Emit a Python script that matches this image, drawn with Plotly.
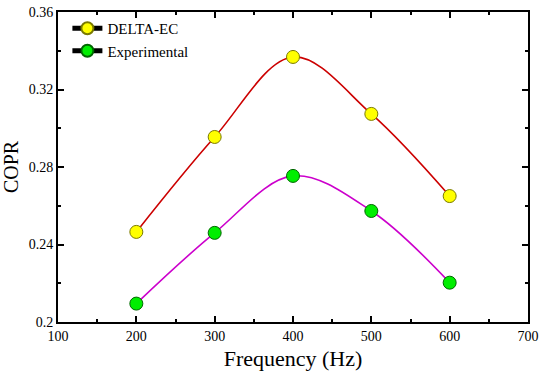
import plotly.graph_objects as go

freq = [200, 300, 400, 500, 600]
delta_ec = [0.2465, 0.2955, 0.3368, 0.3074, 0.2650]
experimental = [0.2095, 0.2460, 0.2754, 0.2573, 0.2203]
series_names = ["DELTA-EC", "Experimental"]
x_ticks = [100, 200, 300, 400, 500, 600, 700]
y_ticks = [0.2, 0.24, 0.28, 0.32, 0.36]
y_labels = ["0.2", "0.24", "0.28", "0.32", "0.36"]

FONT = "Liberation Serif"
line_colors = ["#CC0000", "#CC00CC"]
fill_colors = ["#FFFF00", "#00EE00"]
edge_colors = ["#7A7A00", "#006600"]

fig = go.Figure()
for name, ys, lc, fc, ec in zip(series_names, [delta_ec, experimental], line_colors, fill_colors, edge_colors):
    fig.add_trace(go.Scatter(
        x=freq, y=ys, name=name, mode="lines+markers", showlegend=False,
        line=dict(color=lc, width=1.6, shape="spline", smoothing=1.0),
        marker=dict(size=13, color=fc, line=dict(color=ec, width=1)),
    ))
# legend entries: black line through the coloured marker, as in the reference
for name, fc, ec in zip(series_names, fill_colors, edge_colors):
    fig.add_trace(go.Scatter(
        x=[None], y=[None], name=name, mode="lines+markers",
        line=dict(color="black", width=1.5),
        marker=dict(size=13, color=fc, line=dict(color=ec, width=1)),
    ))

axis_common = dict(
    showline=True, linecolor="black", linewidth=2, mirror="ticks",
    ticks="inside", ticklen=6, tickwidth=2, tickcolor="black",
    showgrid=False, zeroline=False, automargin=False,
    ticklabeloverflow="allow",
    tickfont=dict(family=FONT, size=14, color="black"),
)

fig.update_xaxes(
    range=[100, 700], tickvals=x_ticks,
    title=dict(text="Frequency (Hz)", font=dict(family=FONT, size=22, color="black"), standoff=8),
    minor=dict(ticks="inside", ticklen=3, tickwidth=2, tickcolor="black", dtick=50, showgrid=False),
    **axis_common,
)
fig.update_yaxes(
    range=[0.2, 0.36], tickvals=y_ticks, ticktext=y_labels,
    title=dict(text="COPR", font=dict(family=FONT, size=20, color="black"), standoff=6),
    minor=dict(ticks="inside", ticklen=3, tickwidth=2, tickcolor="black", dtick=0.02, showgrid=False),
    **axis_common,
)

fig.update_layout(
    width=542, height=380,
    margin=dict(l=58, r=14, t=12, b=58, autoexpand=False),
    paper_bgcolor="white", plot_bgcolor="white",
    font=dict(family=FONT, size=14, color="black"),
    legend=dict(x=0.02, y=1.0, xanchor="left", yanchor="top",
                bgcolor="rgba(0,0,0,0)", font=dict(family=FONT, size=15),
                tracegroupgap=0, itemsizing="constant"),
)

# remove the browser's default 8px body margin so the figure fills the window exactly
fig.write_html(
    "out.html",
    config={"displayModeBar": False},
    post_script="document.body.style.margin='0';document.body.style.overflow='hidden';",
)
